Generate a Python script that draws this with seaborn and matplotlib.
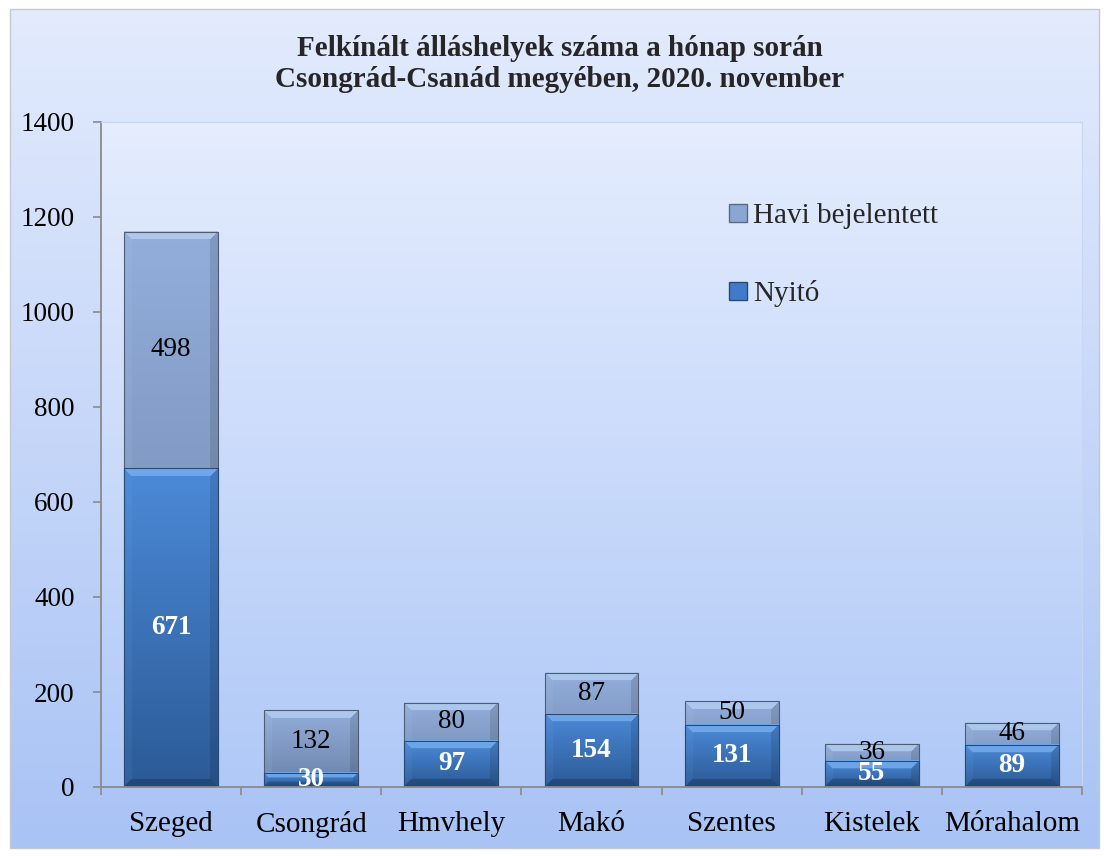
import numpy as np
import pandas as pd
import seaborn as sns
import matplotlib.pyplot as plt
from matplotlib.patches import Rectangle
from matplotlib.lines import Line2D
from matplotlib.colors import to_rgb

# Adatok
telepulesek = ["Szeged", "Csongrád", "Hmvhely", "Makó", "Szentes", "Kistelek", "Mórahalom"]
nyito = [671, 30, 97, 154, 131, 55, 89]
havi = [498, 132, 80, 87, 50, 36, 46]
y_ticks = [0, 200, 400, 600, 800, 1000, 1200, 1400]

cim = "Felkínált álláshelyek száma a hónap során\nCsongrád-Csanád megyében, 2020. november"

df = pd.DataFrame({"telepules": telepulesek, "nyito": nyito, "havi": havi})
df["osszes"] = df["nyito"] + df["havi"]

sns.set_style("white")
plt.rcParams['font.family'] = ['Liberation Serif', 'DejaVu Serif']

W, H = 1108, 856
fig = plt.figure(figsize=(W / 100, H / 100), dpi=100)
fig.patch.set_facecolor("white")


def grad_img(c_top, c_bot, n=256):
    t = np.linspace(0, 1, n)[:, None, None]
    a = np.array(to_rgb(c_top))[None, None, :]
    b = np.array(to_rgb(c_bot))[None, None, :]
    return a * (1 - t) + b * t


# kulso hatter keret
ax_bg = fig.add_axes([0, 0, 1, 1], zorder=-5)
ax_bg.axis("off")
ax_bg.imshow(grad_img("#e3ebfd", "#a9c3f5"), extent=(10, 1099, 848, 9), aspect="auto")
ax_bg.add_patch(Rectangle((10, 9), 1089, 839, fill=False, edgecolor="#c4c8d0", lw=1.0))
ax_bg.set_xlim(0, W)
ax_bg.set_ylim(H, 0)

# fo tengely
ax = fig.add_axes([101 / W, 1 - 787 / H, (1082 - 101) / W, (787 - 122) / H])
ax.set_facecolor("none")
ax.imshow(grad_img("#e5edfe", "#b0c9f7"), extent=(0, 1, 0, 1), transform=ax.transAxes,
          aspect="auto", zorder=-10)

sns.barplot(data=df, x="telepules", y="osszes", color="#8aa6d2", width=0.67, ax=ax,
            saturation=1, edgecolor="#4f5d72", linewidth=0.8)
sns.barplot(data=df, x="telepules", y="nyito", color="#3f7bc8", width=0.67, ax=ax,
            saturation=1, edgecolor="#2b4a75", linewidth=0.8)

ax.set_xlim(-0.5, len(telepulesek) - 0.5)
ax.set_ylim(0, 1400)

szinek = [("#93aedb", "#6a82a8", "#b9d3f5")] * 7 + [("#4c8ad8", "#2b5a96", "#7db4f2")] * 7


def bevel(patch, c_top, c_bot, c_light):
    x0, y0 = patch.get_x(), patch.get_y()
    x1, y1 = x0 + patch.get_width(), y0 + patch.get_height()
    (px0, py0), (px1, py1) = ax.transData.transform([(x0, y0), (x1, y1)])
    w = max(int(round(px1 - px0)), 2)
    h = max(int(round(py1 - py0)), 2)
    img = grad_img(c_top, c_bot, h)[:, 0, :]
    img = np.repeat(img[:, None, :], w, axis=1)
    rows = np.arange(h)[:, None] * np.ones((1, w))
    cols = np.ones((h, 1)) * np.arange(w)[None, :]
    d = np.stack([rows, h - 1 - rows, cols, w - 1 - cols])
    b = min(8, h * 0.3)
    idx = d.argmin(axis=0)
    inb = d.min(axis=0) < b
    light = np.array(to_rgb(c_light))
    top = inb & (idx == 0)
    img[top] = img[top] * 0.3 + light * 0.7
    bot = inb & (idx == 1)
    img[bot] = img[bot] * 0.8
    lef = inb & (idx == 2)
    img[lef] = img[lef] * 0.92 + light * 0.08
    rig = inb & (idx == 3)
    img[rig] = img[rig] * 0.88
    ax.imshow(img, extent=(x0, x1, y0, y1), origin="upper", aspect="auto",
              interpolation="bilinear", zorder=patch.get_zorder() + 0.1)
    patch.set_facecolor("none")
    patch.set_zorder(patch.get_zorder() + 0.2)


for p, (ct, cb, cl) in zip(ax.patches, szinek):
    bevel(p, ct, cb, cl)

ax.set_xlim(-0.5, len(telepulesek) - 0.5)
ax.set_ylim(0, 1400)

# ertekek
for i, row in df.iterrows():
    ax.text(i, row["nyito"] / 2, str(row["nyito"]), ha="center", va="center",
            fontsize=19.5, fontweight="bold", color="white", zorder=20)
    ax.text(i, row["nyito"] + row["havi"] / 2, str(row["havi"]), ha="center", va="center",
            fontsize=19.5, color="black", zorder=20)

ax.set_yticks(y_ticks)
ax.set_yticklabels([str(v) for v in y_ticks])
ax.set_xticks(range(len(telepulesek)))
ax.set_xticklabels(telepulesek)
ax.set_xticks(np.arange(-0.5, len(telepulesek)), minor=True)
ax.tick_params(axis="y", labelsize=19.5, length=6, width=1.2, color="#8a8a8a", pad=13,
               direction="out", left=True, labelcolor="black")
ax.tick_params(axis="x", which="major", labelsize=21, length=0, pad=17, labelcolor="black")
ax.tick_params(axis="x", which="minor", length=6, width=1.2, color="#8a8a8a",
               direction="out", bottom=True)
ax.set_xlabel("")
ax.set_ylabel("")
for s in ["left", "bottom"]:
    ax.spines[s].set_color("#8a8a8a")
    ax.spines[s].set_linewidth(1.3)
for s in ["top", "right"]:
    ax.spines[s].set_color("#c8d6f3")
    ax.spines[s].set_linewidth(0.8)

# jelmagyarazat
kezek = [Line2D([], [], marker="s", linestyle="none", markersize=13,
                markerfacecolor="#8aa6d2", markeredgecolor="#5a6a82"),
         Line2D([], [], marker="s", linestyle="none", markersize=13,
                markerfacecolor="#3f7bc8", markeredgecolor="#2b4a75")]
ax.legend(kezek, ["Havi bejelentett", "Nyitó"], loc="upper left",
          bbox_to_anchor=(712 / W, 1 - 188 / H), bbox_transform=fig.transFigure,
          frameon=False, fontsize=21, labelspacing=1.75, handletextpad=0.1,
          handlelength=0.8, borderpad=0)

fig.text(560 / W, 1 - 64 / H, cim, ha="center", va="center", fontsize=21,
         fontweight="bold", linespacing=1.2)

plt.savefig("out.png", dpi=100)
